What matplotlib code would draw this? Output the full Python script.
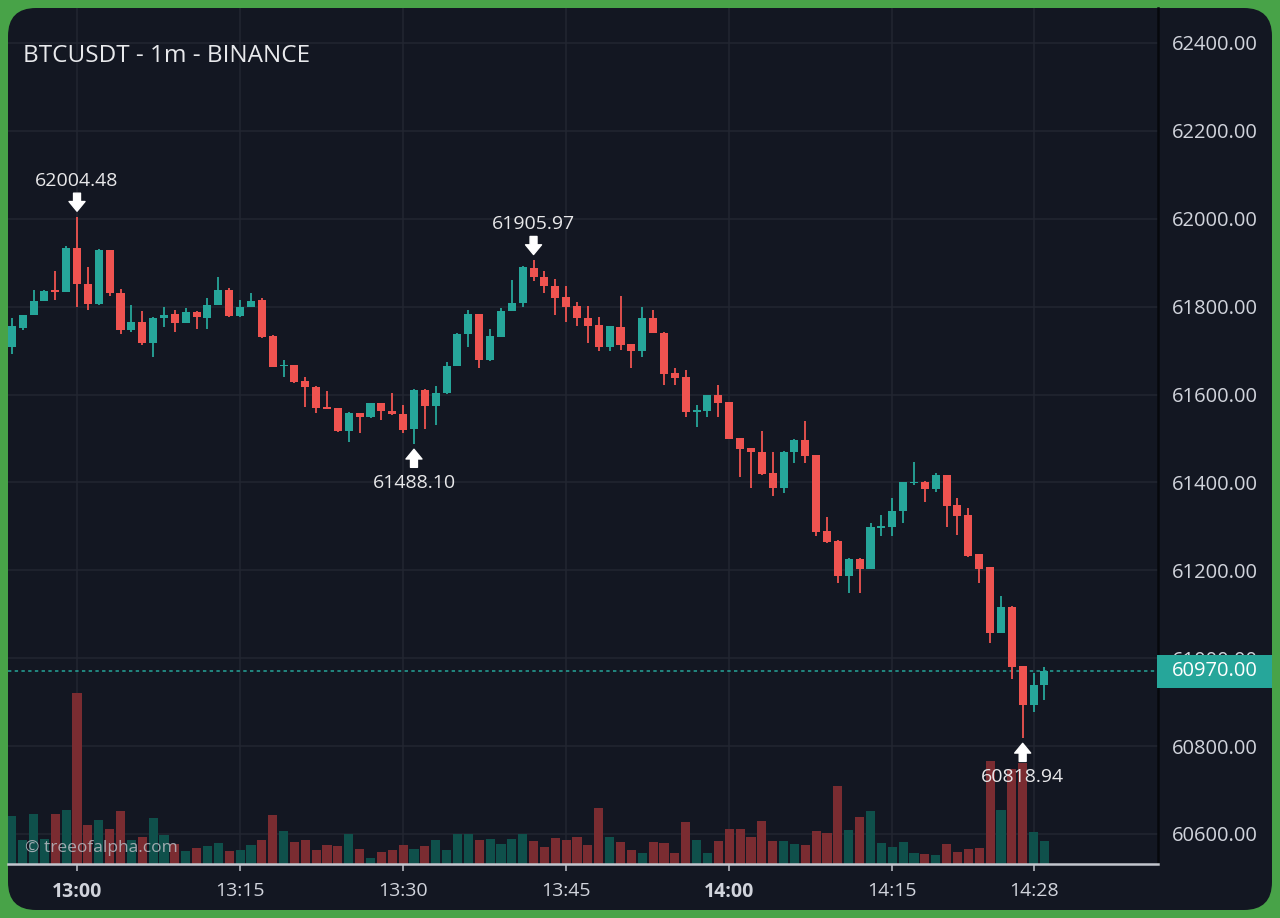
import numpy as np
import pandas as pd
import matplotlib
matplotlib.use("Agg")
import matplotlib.pyplot as plt
import matplotlib.transforms as mtransforms
from matplotlib.patches import FancyBboxPatch, Rectangle

plt.rcParams['font.family'] = ['Open Sans', 'DejaVu Sans']

# ---------------- data ----------------
TIMES = pd.date_range("2024-01-01 12:54", "2024-01-01 14:29", freq="1min")

OPEN = [61708, 61752, 61780, 61813, 61838, 61833, 61933, 61852, 61805, 61929,
        61832, 61747, 61766, 61718, 61774, 61784, 61762, 61788, 61774, 61804,
        61838, 61778, 61799, 61814, 61733, 61664, 61667, 61631, 61618, 61572,
        61569, 61516, 61557, 61548, 61580, 61563, 61556, 61522, 61611, 61574,
        61603, 61665, 61737, 61783, 61678, 61732, 61791, 61808, 61887, 61867,
        61847, 61821, 61802, 61774, 61758, 61709, 61753, 61714, 61699, 61774,
        61741, 61648, 61641, 61561, 61563, 61599, 61582, 61500, 61478, 61470,
        61421, 61387, 61470, 61497, 61462, 61290, 61267, 61186, 61226, 61203,
        61297, 61298, 61336, 61398, 61402, 61384, 61417, 61349, 61326, 61237,
        61207, 61058, 61117, 60982, 60893, 60939]
HIGH = [61774, 61782, 61837, 61838, 61882, 61937, 62004.48, 61890, 61931, 61930,
        61841, 61804, 61791, 61776, 61800, 61792, 61797, 61789, 61819, 61867,
        61842, 61815, 61830, 61820, 61735, 61679, 61668, 61641, 61619, 61609,
        61570, 61560, 61558, 61581, 61581, 61603, 61576, 61612, 61612, 61620,
        61675, 61739, 61792, 61784, 61748, 61796, 61861, 61893, 61905.97, 61880,
        61862, 61847, 61811, 61802, 61777, 61757, 61825, 61715, 61799, 61792,
        61742, 61660, 61656, 61576, 61600, 61622, 61584, 61501, 61479, 61518,
        61470, 61471, 61498, 61540, 61463, 61322, 61268, 61227, 61227, 61308,
        61326, 61364, 61402, 61447, 61403, 61421, 61418, 61364, 61341, 61238,
        61208, 61142, 61118, 60983, 60966, 60981]
LOW = [61693, 61747, 61780, 61812, 61815, 61833, 61800, 61793, 61803, 61825,
       61738, 61742, 61712, 61685, 61753, 61743, 61762, 61749, 61749, 61804,
       61777, 61777, 61799, 61728, 61662, 61641, 61627, 61572, 61559, 61567,
       61515, 61493, 61512, 61547, 61541, 61554, 61513, 61488.10, 61521, 61531,
       61602, 61664, 61709, 61660, 61677, 61731, 61790, 61800, 61859, 61830,
       61782, 61764, 61755, 61718, 61698, 61698, 61701, 61660, 61685, 61740,
       61622, 61622, 61548, 61525, 61550, 61548, 61498, 61413, 61387, 61418,
       61370, 61377, 61444, 61444, 61278, 61263, 61171, 61149, 61148, 61202,
       61277, 61277, 61307, 61394, 61356, 61379, 61298, 61281, 61230, 61171,
       61034, 61057, 60952, 60818.94, 60878, 60905]
CLOSE = [61755, 61780, 61813, 61836, 61834, 61934, 61851, 61807, 61929, 61831,
         61747, 61766, 61717, 61774, 61782, 61762, 61788, 61776, 61804, 61838,
         61778, 61799, 61813, 61730, 61663, 61667, 61628, 61617, 61569, 61568,
         61516, 61559, 61548, 61580, 61563, 61555, 61519, 61611, 61574, 61603,
         61665, 61737, 61783, 61678, 61733, 61791, 61809, 61890, 61867, 61847,
         61820, 61800, 61774, 61756, 61709, 61755, 61713, 61699, 61774, 61741,
         61647, 61638, 61560, 61565, 61599, 61580, 61499, 61476, 61469, 61419,
         61387, 61470, 61497, 61460, 61288, 61265, 61186, 61226, 61203, 61298,
         61300, 61336, 61401, 61402, 61384, 61417, 61347, 61324, 61233, 61204,
         61058, 61116, 60981, 60893, 60939, 60970]
VOLUME = [95, 47, 100, 50, 99, 108, 342, 77, 88, 70,
          106, 47, 53, 92, 58, 40, 25, 31, 35, 41,
          25, 27, 38, 47, 97, 65, 43, 47, 27, 38,
          35, 59, 29, 12, 23, 27, 37, 30, 35, 47,
          27, 60, 59, 48, 50, 39, 50, 59, 46, 33,
          52, 48, 54, 37, 112, 54, 43, 28, 22, 44,
          41, 22, 84, 48, 22, 46, 69, 69, 54, 85,
          46, 46, 40, 37, 66, 62, 155, 68, 93, 106,
          41, 33, 44, 22, 19, 17, 39, 23, 30, 31,
          205, 108, 190, 201, 64, 46]

PRICE_TICKS = [60600, 60800, 61000, 61200, 61400, 61600, 61800, 62000, 62200, 62400]
TIME_TICKS = ["13:00", "13:15", "13:30", "13:45", "14:00", "14:15", "14:28"]
BOLD_TICKS = ["13:00", "14:00"]
EXTREMES = [("13:00", 62004.48, "high"), ("13:42", 61905.97, "high"),
            ("13:31", 61488.10, "low"), ("14:27", 60818.94, "low")]
TITLE = "BTCUSDT - 1m - BINANCE"
WATERMARK = "© treeofalpha.com"

# ---------------- style ----------------
W, H = 1280, 918
BG_OUT = "#48a348"
PANEL = "#131722"
GRID = "#222631"
UP, DOWN = "#26a69a", "#ef5350"
VUP, VDOWN = "#0f504b", "#7a2c31"
TXT = "#d1d4dc"

fig = plt.figure(figsize=(W / 100, H / 100), dpi=100)
fig.patch.set_facecolor(BG_OUT)

panel = FancyBboxPatch((8 / 100, 8 / 100), (1272 - 8) / 100, (910 - 8) / 100,
                       boxstyle="round,pad=0,rounding_size=0.28",
                       transform=fig.dpi_scale_trans, fc=PANEL, ec="none", zorder=-5)
fig.add_artist(panel)

L, R, T, B = 8, 1158, 8, 864
ax = fig.add_axes([L / W, 1 - B / H, (R - L) / W, (B - T) / H])
ax.set_facecolor("none")

t0 = pd.Timestamp("2024-01-01 13:00")
x = ((TIMES - t0) / pd.Timedelta(minutes=1)).to_numpy(dtype=float)
o, h, l, c = map(np.asarray, (OPEN, HIGH, LOW, CLOSE))
v = np.asarray(VOLUME, dtype=float)
up = c >= o

# volume (max bar = 20% of pane height)
vol_top = v.max() / 0.2
vtrans = mtransforms.blended_transform_factory(
    ax.transData, mtransforms.Affine2D().scale(1, 1 / vol_top) + ax.transAxes)
ax.bar(x, v, width=0.84, color=np.where(up, VUP, VDOWN), transform=vtrans,
       zorder=1, linewidth=0)

# candles
cols = np.where(up, UP, DOWN)
ax.vlines(x, l, h, colors=cols, linewidth=1.3, zorder=3)
body_lo = np.minimum(o, c)
body_h = np.maximum(np.abs(c - o), 3.0)
ax.bar(x, body_h, bottom=body_lo, width=0.74, color=cols, linewidth=0, zorder=4)

ax.set_xlim(-6.35, 99.45)
ax.set_ylim(60531.7, 62479.6)

# last price line
ax.axhline(c[-1], color=UP, lw=1.1, ls=(0, (2.2, 2.2)), zorder=2)

# grid / axes
tick_x = [(pd.Timestamp("2024-01-01 " + s) - t0) / pd.Timedelta(minutes=1) for s in TIME_TICKS]
ax.set_xticks(tick_x)
ax.set_xticklabels(TIME_TICKS)
for lab, s in zip(ax.get_xticklabels(), TIME_TICKS):
    if s in BOLD_TICKS:
        lab.set_fontweight("bold")
ax.set_yticks(PRICE_TICKS)
ax.set_yticklabels([f"{p:.2f}" for p in PRICE_TICKS])
ax.yaxis.tick_right()
ax.set_axisbelow(True)
ax.grid(True, color=GRID, lw=1.1)
ax.tick_params(axis="y", length=0, pad=10, labelsize=14.5, labelcolor=TXT)
ax.tick_params(axis="x", length=5, width=1.2, color="#b2b5be", pad=8,
               labelsize=14, labelcolor=TXT)
for s in ("top", "left"):
    ax.spines[s].set_visible(False)
ax.spines["bottom"].set_color("#c3c6ce")
ax.spines["bottom"].set_linewidth(1.8)
ax.spines["right"].set_color("#06080c")
ax.spines["right"].set_linewidth(1.8)

# extremes
for s, price, kind in EXTREMES:
    xi = (pd.Timestamp("2024-01-01 " + s) - t0) / pd.Timedelta(minutes=1)
    sg = 1 if kind == "high" else -1
    ax.annotate("", xy=(xi, price), xytext=(0, sg * 17), textcoords="offset points",
                arrowprops=dict(arrowstyle="simple,head_length=0.7,head_width=1.15,tail_width=0.5",
                                color="white", shrinkA=0, shrinkB=4, mutation_scale=10),
                zorder=6)
    ax.annotate(f"{price:.2f}", xy=(xi, price), xytext=(0, sg * (26 if kind == "high" else 28)),
                textcoords="offset points", ha="center", va="center",
                fontsize=14, color="#e8e8ea", zorder=7)

# title and watermark
ax.text((23 - L) / (R - L), (B - 56) / (B - T), TITLE, transform=ax.transAxes,
        ha="left", va="center", fontsize=17.5, color="#e8e9ec", zorder=8)
ax.text((25 - L) / (R - L), (B - 848) / (B - T), WATERMARK, transform=ax.transAxes,
        ha="left", va="center", fontsize=12.5, color="#b8bbc2", alpha=0.85, zorder=8)

# current price tag
fig.canvas.draw()
ppx = (ax.get_ylim()[1] - ax.get_ylim()[0]) / (B - T)
btrans = mtransforms.blended_transform_factory(fig.transFigure, ax.transData)
ax.add_patch(Rectangle((1157 / W, c[-1] - 16.5 * ppx), (1272 - 1157) / W, 33 * ppx,
                       transform=btrans, fc=UP, ec="none", clip_on=False, zorder=20))
ax.text(1172 / W, c[-1], f"{c[-1]:.2f}", transform=btrans, ha="left", va="center",
        fontsize=14.5, color="white", zorder=21, clip_on=False)

fig.savefig("out.png", dpi=100, facecolor=fig.get_facecolor())
